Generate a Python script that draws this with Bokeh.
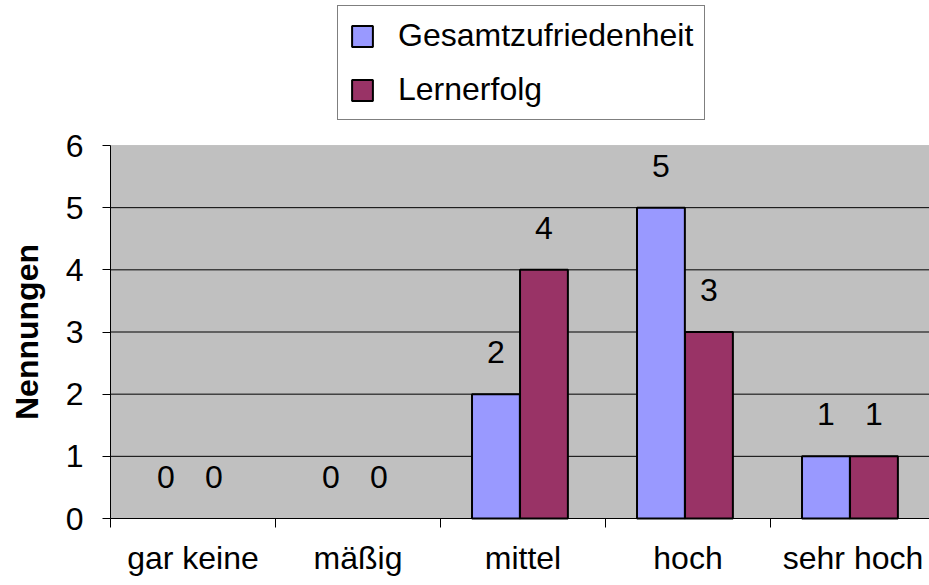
from bokeh.plotting import figure
from bokeh.models import (Range1d, FixedTicker, Legend, LegendItem, ColumnDataSource,
                          BoxAnnotation, Label)
from bokeh.core.properties import value
from bokeh.embed import file_html
from bokeh.resources import INLINE

categories = ["gar keine", "mäßig", "mittel", "hoch", "sehr hoch"]
gesamtzufriedenheit = [0, 0, 2, 5, 1]
lernerfolg = [0, 0, 4, 3, 1]
series_names = ["Gesamtzufriedenheit", "Lernerfolg"]
y_ticks = [0, 1, 2, 3, 4, 5, 6]
y_title = "Nennungen"

FONT = "Liberation Sans"
FS = "32px"
BLUE = "#9999FF"
RED = "#993366"

# layout constants (pixels) -> data ranges; the frame fills the whole figure
W, H = 929, 585
LEFT = 110            # x of value-axis inside figure
CAT_PX = 165          # pixels per category
AXIS_Y = 518          # y (from top) of the category axis
UNIT_PX = 373 / 6     # pixels per count
x0 = -LEFT / CAT_PX
x1 = (W - LEFT) / CAT_PX
y0 = -(H - AXIS_Y) / UNIT_PX
y1 = AXIS_Y / UNIT_PX
YMAX = y_ticks[-1]

p = figure(width=W, height=H, output_backend="svg", toolbar_location=None,
           x_range=Range1d(x0, x1), y_range=Range1d(y0, y1),
           min_border_left=0, min_border_top=0, min_border_bottom=0, min_border_right=0)
p.background_fill_color = "white"
p.border_fill_color = "white"
p.outline_line_color = None
p.xgrid.visible = False
p.ygrid.visible = False

# grey plot area
p.add_layout(BoxAnnotation(left=0, right=x1, bottom=0, top=YMAX,
                           fill_color="#C0C0C0", fill_alpha=1,
                           line_color="#808080", line_width=1, level="image"))

# horizontal grid lines
grid_y = y_ticks[1:-1]
p.segment(x0=0, x1=x1, y0=grid_y, y1=grid_y, line_color="black", line_width=1)

idx = list(range(len(categories)))
off_b, off_r, bw = -0.164, 0.127, 0.29


def make_src(vals, off):
    return ColumnDataSource(dict(
        x=[i + 0.5 + off for i in idx], top=vals,
        lab=[str(v) for v in vals],
        la=[1.0 if v > 0 else 0.0 for v in vals]))


src_b = make_src(gesamtzufriedenheit, off_b)
src_r = make_src(lernerfolg, off_r)

rb = p.vbar(x="x", top="top", bottom=0, width=bw, source=src_b,
            fill_color=BLUE, line_color="black", line_alpha="la", line_width=2)
rr = p.vbar(x="x", top="top", bottom=0, width=bw, source=src_r,
            fill_color=RED, line_color="black", line_alpha="la", line_width=2)

for src in (src_b, src_r):
    p.text(x="x", y="top", text="lab", source=src, text_font=value(FONT),
           text_font_size=FS, text_align="center", text_baseline="middle",
           text_color="black", y_offset=-42)

# category axis
xa = p.xaxis[0]
xa.fixed_location = 0
xa.bounds = (0, x1)
xa.ticker = FixedTicker(ticks=[i + 0.5 for i in idx], minor_ticks=idx)
xa.major_label_overrides = {i + 0.5: c for i, c in zip(idx, categories)}
xa.major_tick_line_color = None
xa.major_tick_out = 0
xa.major_tick_in = 0
xa.minor_tick_line_color = "black"
xa.minor_tick_out = 9
xa.minor_tick_in = 0
xa.axis_line_color = "black"
xa.major_label_text_font = FONT
xa.major_label_text_font_size = FS
xa.major_label_text_color = "black"
xa.major_label_standoff = 12

# value axis
ya = p.yaxis[0]
ya.fixed_location = 0
ya.bounds = (0, YMAX)
ya.ticker = FixedTicker(ticks=y_ticks, minor_ticks=[])
ya.major_tick_out = 8
ya.major_tick_in = 0
ya.major_tick_line_color = "black"
ya.axis_line_color = "black"
ya.major_label_text_font = FONT
ya.major_label_text_font_size = FS
ya.major_label_text_color = "black"
ya.major_label_standoff = 19

p.add_layout(Label(x=x0 + 26 / CAT_PX, y=YMAX / 2, text=y_title, angle=90, angle_units="deg",
                   text_font=FONT, text_font_size="32px", text_font_style="bold",
                   text_color="black", text_align="center", text_baseline="middle"))

legend = Legend(items=[LegendItem(label=series_names[0], renderers=[rb], index=2),
                       LegendItem(label=series_names[1], renderers=[rr], index=2)],
                location=(337, 465), orientation="vertical",
                border_line_color="black", border_line_width=1,
                background_fill_color="white", background_fill_alpha=1,
                label_text_font=FONT, label_text_font_size=FS, label_text_color="black",
                glyph_width=26, glyph_height=26, label_height=37, label_standoff=23,
                spacing=17, padding=11, margin=0)
p.add_layout(legend, "center")

open("out.html", "w").write(file_html(p, INLINE))
